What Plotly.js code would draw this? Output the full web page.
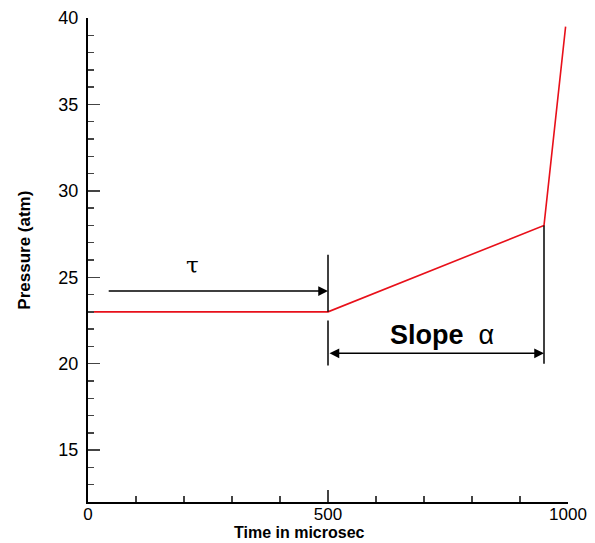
<!DOCTYPE html>
<html><head><meta charset="utf-8">
<script src="https://cdn.plot.ly/plotly-3.0.1.min.js"></script>
<style>body{margin:0;background:#fff}#c{width:595px;height:543px}</style>
</head><body><div id="c"></div>
<script>
// Pressure profile
const timeUs = [0, 500, 950, 995];
const pressureAtm = [23, 23, 28, 39.5];
// Annotation geometry (data units)
const tauArrow = {x0: 40, x1: 500, y: 24.2};
const slopeArrow = {x0: 500, x1: 950, y: 20.6};
const markerLines = [
  {x: 500, y0: 26.3, y1: 23},
  {x: 500, y0: 22.5, y1: 19.9},
  {x: 950, y0: 28, y1: 20.0}
];
const xTicks = [0, 500, 1000];
const yTicks = [15, 20, 25, 30, 35, 40];

const font = 'Liberation Sans, Arial, sans-serif';
const trace = {x: timeUs, y: pressureAtm, mode: 'lines', type: 'scatter',
  line: {color: '#e8101a', width: 1.6}, hoverinfo: 'skip'};

const shapes = markerLines.map(m => ({type: 'line', xref: 'x', yref: 'y',
  x0: m.x, x1: m.x, y0: m.y0, y1: m.y1, line: {color: '#000', width: 1.5}}));

const annotations = [
  {x: tauArrow.x1, y: tauArrow.y, ax: tauArrow.x0, ay: tauArrow.y, axref: 'x', ayref: 'y',
   xref: 'x', yref: 'y', text: '', showarrow: true, arrowhead: 2, arrowsize: 1.3, arrowwidth: 1.5, arrowcolor: '#000'},
  {x: slopeArrow.x1, y: slopeArrow.y, ax: slopeArrow.x0, ay: slopeArrow.y, axref: 'x', ayref: 'y',
   xref: 'x', yref: 'y', text: '', showarrow: true, arrowhead: 2, startarrowhead: 2, arrowside: 'end+start',
   arrowsize: 1.3, startarrowsize: 1.3, arrowwidth: 1.5, arrowcolor: '#000'},
  {x: 217, y: 25.7, xref: 'x', yref: 'y', text: 'τ', showarrow: false,
   font: {family: 'DejaVu Serif, serif', size: 23, color: '#000'}},
  {x: 738, y: 21.65, xref: 'x', yref: 'y', text: '<b>Slope</b>  α', showarrow: false,
   font: {family: font, size: 27, color: '#000'}},
  {x: 0.5, y: -0.064, xref: 'paper', yref: 'paper', xanchor: 'center', yanchor: 'middle', xshift: -29,
   text: '<b>Time in microsec</b>', showarrow: false, font: {family: font, size: 16, color: '#000'}},
  {x: -0.134, y: 0.5, xref: 'paper', yref: 'paper', xanchor: 'center', yanchor: 'middle', yshift: 10,
   text: '<b>Pressure (atm)</b>', textangle: -90, showarrow: false, font: {family: font, size: 17, color: '#000'}}
];

const layout = {
  width: 595, height: 543,
  margin: {l: 88, r: 27, t: 18, b: 41},
  paper_bgcolor: '#fff', plot_bgcolor: '#fff',
  showlegend: false,
  font: {family: font, size: 18, color: '#000'},
  xaxis: {range: [0, 1000], tickvals: xTicks, ticks: 'inside', ticklen: 12, tickwidth: 1.5,
    showline: true, linewidth: 2, linecolor: '#000', showgrid: false, zeroline: false,
    ticklabelstandoff: -4,
    minor: {dtick: 100, ticks: 'inside', ticklen: 6, tickwidth: 1.5, showgrid: false},
    tickfont: {family: font, size: 17, color: '#000'}},
  yaxis: {range: [12, 40], tickvals: yTicks, ticks: 'inside', ticklen: 12, tickwidth: 1.5,
    showline: true, linewidth: 2, linecolor: '#000', showgrid: false, zeroline: false,
    ticklabelstandoff: 4,
    minor: {dtick: 1, ticks: 'inside', ticklen: 6, tickwidth: 1.5, showgrid: false},
    tickfont: {family: font, size: 18, color: '#000'}},
  shapes: shapes,
  annotations: annotations
};
Plotly.newPlot('c', [trace], layout, {staticPlot: true});
</script></body></html>
